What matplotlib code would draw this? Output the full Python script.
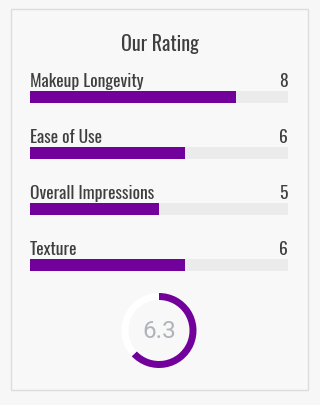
import matplotlib.pyplot as plt
from matplotlib.patches import Rectangle

labels = ["Makeup Longevity", "Ease of Use", "Overall Impressions", "Texture"]
scores = [8, 6, 5, 6]
overall = 6.3
max_score = 10

purple = "#72009b"
track = "#ebebeb"
ink = "#3f3f3f"
W, H = 320, 406

plt.rcParams['font.family'] = ['Oswald', 'Fjalla One', 'Roboto Condensed',
                               'Barlow Condensed', 'DejaVu Sans']

fig = plt.figure(figsize=(W / 100, H / 100), dpi=100)
fig.patch.set_facecolor("#f7f7f7")

# card outline
bg = fig.add_axes([0, 0, 1, 1])
bg.set_xlim(0, W)
bg.set_ylim(H, 0)
bg.axis("off")
bg.add_patch(Rectangle((10.5, 9.5), 297, 381, facecolor="#f8f8f8",
                       edgecolor="#dddddd", lw=1))

fig.text(160 / W, 1 - 51 / H, "Our Rating", ha="center", va="baseline",
         fontsize=14.4, color=ink, fontweight=500)

for i, (lab, val) in enumerate(zip(labels, scores)):
    top = 92 + 56 * i
    ax = fig.add_axes([30 / W, 1 - (top + 12) / H, 258 / W, 12 / H])
    ax.barh(0, max_score, height=1, color=track)
    ax.barh(0, val, height=1, color=purple)
    ax.set_xlim(0, max_score)
    ax.set_ylim(-0.5, 0.5)
    ax.axis("off")
    fig.text(30 / W, 1 - (top - 5) / H, lab, ha="left", va="baseline",
             fontsize=12.6, color=ink, fontweight=500)
    fig.text(288 / W, 1 - (top - 5) / H, str(val), ha="right", va="baseline",
             fontsize=12.6, color=ink, fontweight=500)

# donut for the overall score
cx, cy, r = 159, 331.5, 40
dax = fig.add_axes([(cx - r) / W, 1 - (cy + r) / H, 2 * r / W, 2 * r / H])
dax.pie([overall, max_score - overall], colors=[purple, "white"],
        startangle=90, counterclock=False, radius=37.5 / r,
        wedgeprops=dict(width=7 / r, linewidth=0))
dax.set_xlim(-1, 1)
dax.set_ylim(-1, 1)
dax.set_aspect("equal")
dax.text(0, 0, f"{overall}", ha="center", va="center", fontsize=17.5,
         color="#b0b3ba", family=["Roboto", "DejaVu Sans"])

fig.savefig("out.png", dpi=100, facecolor=fig.get_facecolor())
